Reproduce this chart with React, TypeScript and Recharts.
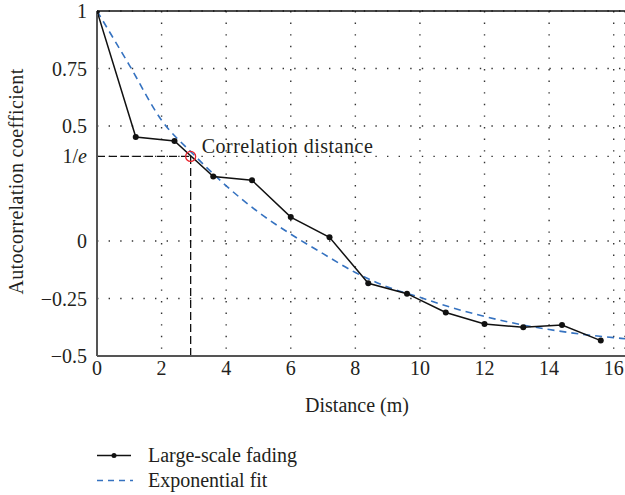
import React from 'react';
import { LineChart, Line, XAxis, YAxis, CartesianGrid, ReferenceLine, ReferenceDot } from 'recharts';

const INV_E = 1 / Math.E;

const distances = [0, 1.2, 2.4, 3.6, 4.8, 6.0, 7.2, 8.4, 9.6, 10.8, 12.0, 13.2, 14.4, 15.6];
const fadingValues = [1, 0.452, 0.435, 0.28, 0.264, 0.104, 0.016, -0.184, -0.229, -0.311, -0.361, -0.375, -0.365, -0.433];

const fitDistances = [0, 1, 2, 3, 4, 5, 6, 7, 8, 9, 10, 11, 12, 13, 14, 15, 16, 16.35];
const fitValues = [1.0, 0.765, 0.525, 0.375, 0.24, 0.125, 0.03, -0.055, -0.137, -0.2, -0.245, -0.29, -0.328, -0.36, -0.385, -0.405, -0.42, -0.425];

const xTicks = [0, 2, 4, 6, 8, 10, 12, 14, 16];
const yTicks = [-0.5, -0.25, 0, INV_E, 0.5, 0.75, 1];
const yTickLabels = ['\u22120.5', '\u22120.25', '0', '1/e', '0.5', '0.75', '1'];

const correlationDistance = 2.9;
const seriesNames = ['Large-scale fading', 'Exponential fit'];

const fadingData = distances.map((d, i) => ({ distance: d, value: fadingValues[i] }));
const fitData = fitDistances.map((d, i) => ({ distance: d, value: fitValues[i] }));

const FONT = "'Liberation Serif', 'DejaVu Serif', serif";
const TEXT = '#231f20';
const FS = 20;

const YTick = (props: any) => {
  const { x, y, payload } = props;
  const idx = yTicks.findIndex((t) => Math.abs(t - payload.value) < 1e-9);
  const label = idx >= 0 ? yTickLabels[idx] : String(payload.value);
  if (label === '1/e') {
    return (
      <text x={x} y={y} textAnchor="end" dominantBaseline="central" style={{ fontFamily: FONT }} fontSize={FS} fill={TEXT}>
        <tspan>1/</tspan>
        <tspan fontStyle="italic">e</tspan>
      </text>
    );
  }
  return (
    <text x={x} y={y} textAnchor="end" dominantBaseline="central" style={{ fontFamily: FONT }} fontSize={FS} fill={TEXT}>
      {label}
    </text>
  );
};

const XTick = (props: any) => {
  const { x, y, payload } = props;
  return (
    <text x={x} y={y} textAnchor="middle" dy="0.75em" style={{ fontFamily: FONT }} fontSize={FS} fill={TEXT}>
      {payload.value}
    </text>
  );
};

const YLabel = (props: any) => {
  const vb = props.viewBox || { x: 0, y: 11, width: 97, height: 345 };
  const cy = vb.y + vb.height / 2 - 2;
  const cx = 16;
  return (
    <text
      x={cx}
      y={cy}
      transform={`rotate(-90, ${cx}, ${cy})`}
      textAnchor="middle"
      dominantBaseline="central"
      style={{ fontFamily: FONT, letterSpacing: '0.35px' }}
      fontSize={FS}
      fill={TEXT}
    >
      Autocorrelation coefficient
    </text>
  );
};

const XLabel = (props: any) => {
  const vb = props.viewBox || { x: 97, y: 356, width: 528, height: 40 };
  const cx = vb.x + vb.width / 2 - 4;
  return (
    <text x={cx} y={411.5} textAnchor="middle" style={{ fontFamily: FONT }} fontSize={FS} fill={TEXT}>
      Distance (m)
    </text>
  );
};

const DotLabel = (props: any) => {
  const vb = props.viewBox || { x: 0, y: 0, width: 0, height: 0 };
  const cx = vb.x + (vb.width || 0) / 2;
  const cy = vb.y + (vb.height || 0) / 2;
  return (
    <text x={cx + 11} y={cy - 3.5} style={{ fontFamily: FONT, letterSpacing: '0.5px' }} fontSize={FS} fill={TEXT}>
      Correlation distance
    </text>
  );
};

export default function App() {
  return (
    <div style={{ position: 'fixed', left: 0, top: 0, width: 625, height: 495, fontFamily: FONT, overflow: 'hidden', background: '#fff' }}>
      <LineChart width={625} height={495} margin={{ top: 11, right: 0, bottom: 99, left: 0 }} style={{ fontFamily: FONT }}>
        <CartesianGrid stroke="#333" strokeWidth={1.4} strokeDasharray="1.4 10.2" />
        <XAxis
          type="number"
          dataKey="distance"
          domain={[0, 16.35]}
          ticks={xTicks}
          interval={0}
          allowDataOverflow
          height={40}
          tickSize={0}
          tickMargin={4}
          tick={<XTick />}
          axisLine={{ stroke: '#555', strokeWidth: 2 }}
          label={<XLabel />}
        />
        <YAxis
          type="number"
          domain={[-0.5, 1]}
          ticks={yTicks}
          interval={0}
          allowDataOverflow
          width={97}
          tickSize={0}
          tickMargin={10}
          tick={<YTick />}
          axisLine={{ stroke: '#555', strokeWidth: 2 }}
          label={<YLabel />}
        />
        <ReferenceLine y={1} stroke="#111" strokeWidth={1.5} />
        <ReferenceLine
          segment={[{ x: 0, y: INV_E }, { x: correlationDistance, y: INV_E }]}
          stroke="#111"
          strokeWidth={1.3}
          strokeDasharray="8 4"
        />
        <ReferenceLine
          segment={[{ x: correlationDistance, y: -0.5 }, { x: correlationDistance, y: INV_E }]}
          stroke="#111"
          strokeWidth={1.3}
          strokeDasharray="8 4"
        />
        <Line
          data={fitData}
          dataKey="value"
          name={seriesNames[1]}
          type="monotone"
          stroke="#3572c0"
          strokeWidth={1.6}
          strokeDasharray="7 5"
          dot={false}
          activeDot={false}
          isAnimationActive={false}
        />
        <Line
          data={fadingData}
          dataKey="value"
          name={seriesNames[0]}
          type="linear"
          stroke="#111"
          strokeWidth={1.5}
          dot={{ r: 3, fill: '#111', stroke: '#111', strokeWidth: 0 }}
          activeDot={false}
          isAnimationActive={false}
        />
        <ReferenceDot
          x={correlationDistance}
          y={INV_E}
          r={5}
          fill="none"
          stroke="#e8202a"
          strokeWidth={1.3}
          label={<DotLabel />}
        />
      </LineChart>
      <div style={{ position: 'absolute', left: 97, top: 442.5, fontFamily: FONT, fontSize: FS, color: TEXT }}>
        <div style={{ display: 'flex', alignItems: 'center', height: 25, lineHeight: '25px' }}>
          <svg width={36} height={25} style={{ display: 'block' }}>
            <line x1={0} y1={12.5} x2={34} y2={12.5} stroke="#111" strokeWidth={1.5} />
            <circle cx={17} cy={12.5} r={2.5} fill="#111" />
          </svg>
          <span style={{ marginLeft: 15, whiteSpace: 'nowrap' }}>{seriesNames[0]}</span>
        </div>
        <div style={{ display: 'flex', alignItems: 'center', height: 25, lineHeight: '25px' }}>
          <svg width={36} height={25} style={{ display: 'block' }}>
            <line x1={0} y1={12.5} x2={36} y2={12.5} stroke="#3572c0" strokeWidth={1.5} strokeDasharray="6 5" />
          </svg>
          <span style={{ marginLeft: 15, whiteSpace: 'nowrap' }}>{seriesNames[1]}</span>
        </div>
      </div>
    </div>
  );
}
